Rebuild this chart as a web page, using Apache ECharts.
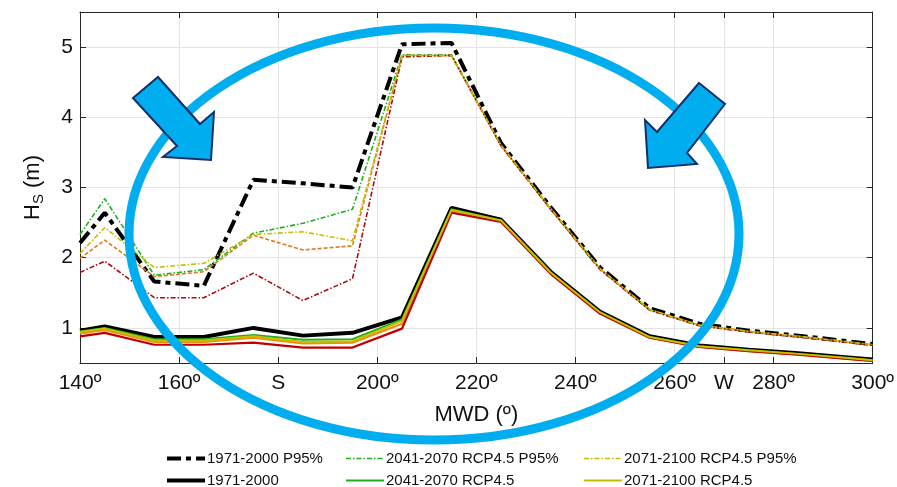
<!DOCTYPE html>
<html>
<head>
<meta charset="utf-8">
<script src="https://cdn.jsdelivr.net/npm/echarts@6/dist/echarts.min.js"></script>
<style>
  html, body { margin: 0; padding: 0; background: #fff; }
  #chart { width: 897px; height: 487px; }
</style>
</head>
<body>
<div id="chart"></div>
<script>
// direcciones (MWD, grados)
const mwd = [140, 145, 155, 165, 175, 185, 195, 205, 215, 225, 235, 245, 255, 265, 275, 285, 295, 300]
const xTicks = [140, 160, 180, 200, 220, 240, 260, 270, 280, 300]
const yTicks = [1, 2, 3, 4, 5]

// percentil 95
const hist95 = [2.21, 2.64, 1.66, 1.60, 3.11, 3.06, 3.00, 5.04, 5.06, 3.63, 2.72, 1.86, 1.28, 1.06, 0.96, 0.89, 0.81, 0.77]
const rcp45mid95 = [2.33, 2.84, 1.75, 1.83, 2.35, 2.49, 2.69, 4.89, 4.89, 3.60, 2.70, 1.84, 1.26, 1.04, 0.95, 0.88, 0.80, 0.76]
const rcp45end95 = [2.06, 2.43, 1.86, 1.92, 2.33, 2.37, 2.24, 4.88, 4.88, 3.60, 2.70, 1.84, 1.26, 1.04, 0.95, 0.88, 0.80, 0.76]
const rcp85mid95 = [1.99, 2.25, 1.73, 1.80, 2.32, 2.11, 2.17, 4.88, 4.88, 3.60, 2.70, 1.84, 1.26, 1.04, 0.95, 0.88, 0.80, 0.76]
const rcp85end95 = [1.79, 1.95, 1.43, 1.43, 1.78, 1.39, 1.70, 4.86, 4.88, 3.59, 2.69, 1.83, 1.25, 1.03, 0.94, 0.87, 0.79, 0.75]

// medias
const hist = [0.96, 1.02, 0.87, 0.87, 1.00, 0.89, 0.93, 1.15, 2.71, 2.54, 1.80, 1.23, 0.88, 0.75, 0.69, 0.64, 0.58, 0.55]
const rcp45mid = [0.95, 1.00, 0.84, 0.84, 0.90, 0.83, 0.84, 1.12, 2.69, 2.53, 1.79, 1.22, 0.87, 0.74, 0.68, 0.63, 0.57, 0.54]
const rcp45end = [0.94, 0.99, 0.82, 0.82, 0.88, 0.80, 0.81, 1.10, 2.68, 2.53, 1.79, 1.22, 0.87, 0.74, 0.68, 0.63, 0.57, 0.54]
const rcp85mid = [0.92, 0.97, 0.80, 0.80, 0.86, 0.78, 0.79, 1.06, 2.66, 2.52, 1.78, 1.21, 0.86, 0.73, 0.67, 0.62, 0.56, 0.53]
const rcp85end = [0.88, 0.93, 0.76, 0.76, 0.79, 0.72, 0.72, 0.99, 2.64, 2.51, 1.77, 1.20, 0.86, 0.73, 0.67, 0.62, 0.56, 0.53]

const font = 'Liberation Sans, Arial, sans-serif'
const axisColor = '#262626'

const toPairs = (vals) => vals.map((v, i) => [mwd[i], v])

const line = (name, vals, color, width, type) => ({
  name,
  type: 'line',
  data: toPairs(vals),
  symbol: 'none',
  animation: false,
  lineStyle: { color, width, type, cap: 'butt' },
  itemStyle: { color }
})

const xLabel = (v) => (v === 180 ? 'S' : v === 270 ? 'W' : v + 'º')

const chart = echarts.init(document.getElementById('chart'))

const option = {
  backgroundColor: '#fff',
  textStyle: { fontFamily: font },
  grid: { left: 80, right: 23, top: 12, bottom: 124 },
  xAxis: [
    {
      type: 'value',
      min: 140,
      max: 300,
      name: 'MWD (º)',
      nameLocation: 'middle',
      nameGap: 41,
      nameTextStyle: { fontSize: 22, color: '#111', fontFamily: font },
      axisLine: { show: true, lineStyle: { color: axisColor } },
      axisTick: { inside: true, length: 6, customValues: xTicks, lineStyle: { color: axisColor } },
      axisLabel: { customValues: xTicks, formatter: xLabel, fontSize: 21, color: '#111', margin: 10, fontFamily: font },
      splitLine: { show: true, lineStyle: { color: '#e3e3e3' } }
    },
    {
      type: 'value',
      position: 'top',
      min: 140,
      max: 300,
      axisLine: { show: true, lineStyle: { color: axisColor } },
      axisTick: { inside: true, length: 6, customValues: xTicks, lineStyle: { color: axisColor } },
      axisLabel: { show: false },
      splitLine: { show: false }
    }
  ],
  yAxis: [
    {
      type: 'value',
      min: 0.5,
      max: 5.5,
      name: 'H{sub|S} (m)',
      nameLocation: 'middle',
      nameGap: 34,
      nameTextStyle: {
        fontSize: 22,
        color: '#111',
        fontFamily: font,
        rich: { sub: { fontSize: 15, color: '#111', fontFamily: font, padding: [12, 0, 0, 0] } }
      },
      axisLine: { show: true, lineStyle: { color: axisColor } },
      axisTick: { inside: true, length: 6, customValues: yTicks, lineStyle: { color: axisColor } },
      axisLabel: { customValues: yTicks, fontSize: 21, color: '#111', margin: 7, fontFamily: font },
      splitLine: { show: true, lineStyle: { color: '#e3e3e3' } }
    },
    {
      type: 'value',
      position: 'right',
      min: 0.5,
      max: 5.5,
      axisLine: { show: true, lineStyle: { color: axisColor } },
      axisTick: { inside: true, length: 6, customValues: yTicks, lineStyle: { color: axisColor } },
      axisLabel: { show: false },
      splitLine: { show: false }
    }
  ],
  legend: [
    { names: ['1971-2000 P95%', '1971-2000'], left: 165 },
    { names: ['2041-2070 RCP4.5 P95%', '2041-2070 RCP4.5'], left: 345 },
    { names: ['2071-2100 RCP4.5 P95%', '2071-2100 RCP4.5'], left: 583 }
  ].map((l) => ({
    data: l.names,
    left: l.left,
    top: 451,
    height: 80,
    width: 260,
    orient: 'vertical',
    padding: 0,
    itemWidth: 38,
    itemHeight: 14,
    itemGap: 7,
    selectedMode: false,
    itemStyle: { opacity: 0 },
    lineStyle: { width: 'inherit' },
    textStyle: { fontSize: 15, color: '#111', fontFamily: font, padding: [0, 0, 0, -3] }
  })),
  series: [
    line('1971-2000 P95%', hist95, '#000', 4, [14, 5, 5, 5]),
    line('1971-2000', hist, '#000', 4, 'solid'),
    line('2041-2070 RCP4.5 P95%', rcp45mid95, '#1fae1f', 1.6, [5, 2, 1.5, 2]),
    line('2041-2070 RCP4.5', rcp45mid, '#1fae1f', 2, 'solid'),
    line('2041-2070 RCP8.5 P95%', rcp85mid95, '#e07a1a', 1.6, [4, 2]),
    line('2041-2070 RCP8.5', rcp85mid, '#f08c10', 2.2, 'solid'),
    line('2071-2100 RCP8.5 P95%', rcp85end95, '#a80c0c', 1.6, [5, 2, 1.5, 2]),
    line('2071-2100 RCP8.5', rcp85end, '#c00000', 2.2, 'solid'),
    line('2071-2100 RCP4.5 P95%', rcp45end95, '#c8be00', 1.6, [5, 2, 1.5, 2]),
    line('2071-2100 RCP4.5', rcp45end, '#c8be00', 2, 'solid')
  ],
  graphic: [
    {
      type: 'ellipse',
      z: 100,
      shape: { cx: 434, cy: 234, rx: 305, ry: 206 },
      style: { fill: 'none', stroke: '#00aeef', lineWidth: 9 }
    },
    {
      type: 'polygon',
      z: 101,
      shape: { points: [[133, 98], [158, 77], [200, 124], [214, 112], [211, 160], [163, 157], [177, 146]] },
      style: { fill: '#00aeef', stroke: '#13306b', lineWidth: 2 }
    },
    {
      type: 'polygon',
      z: 101,
      shape: { points: [[699, 83], [725, 104], [687, 153], [697, 164], [648, 168], [645, 120], [657, 132]] },
      style: { fill: '#00aeef', stroke: '#13306b', lineWidth: 2 }
    }
  ]
}

chart.setOption(option)
</script>
</body>
</html>
